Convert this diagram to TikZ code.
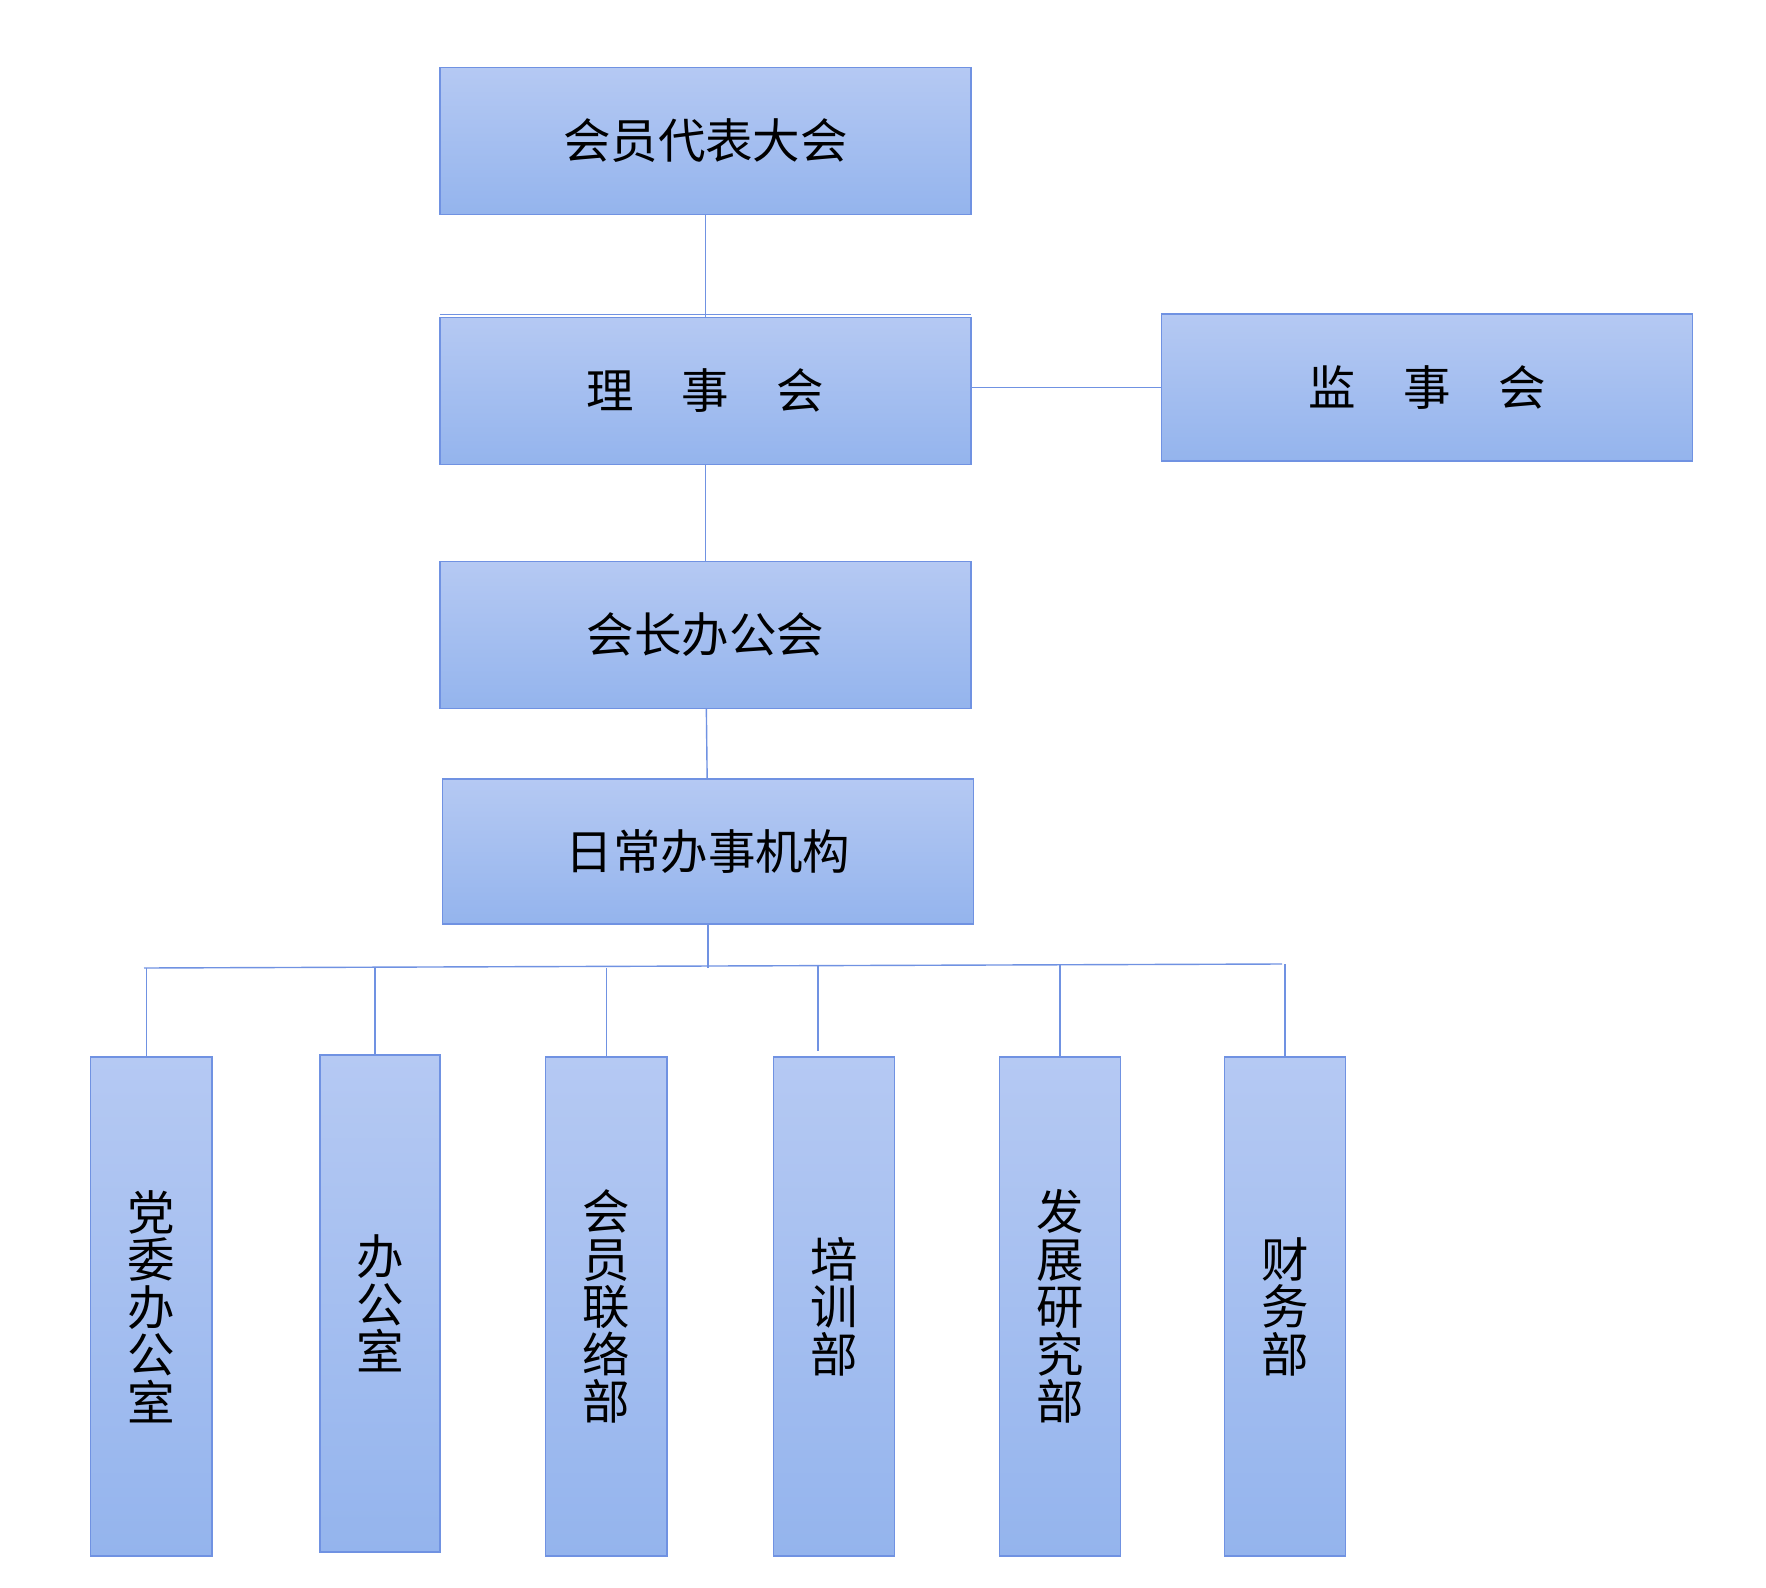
\documentclass[tikz,border=0pt]{standalone}
\usepackage{fontspec}
\newfontfamily\cjk{Noto Sans CJK SC}
\usetikzlibrary{positioning}
\definecolor{boxtop}{RGB}{181,201,243}
\definecolor{boxbot}{RGB}{148,180,237}
\definecolor{boxline}{RGB}{112,146,226}
\tikzset{
  box/.style={draw=boxline, line width=0.4pt, top color=boxtop, bottom color=boxbot,
    inner sep=0pt, outer sep=0pt, font=\cjk\fontsize{13.5pt}{13.5pt}\selectfont},
  widebox/.style={box, minimum width=5.31cm, minimum height=1.47cm},
  tallbox/.style={box, minimum width=1.21cm, minimum height=4.99cm, align=center},
  link/.style={draw=boxline, line width=0.4pt}
}

\begin{document}
\begin{tikzpicture}[x=0.01cm, y=-0.01cm]
    \useasboundingbox (0,0) rectangle (1766,1588);
    % upper levels
    \node[widebox] (dahui) at (705.5,141) {会员代表大会};
    \node[widebox] (lishi) at (705.5,391) {理　事　会};
    \node[widebox] (jianshi) at (1427,387.5) {监　事　会};
    \node[widebox] (huizhang) at (705.5,635) {会长办公会};
    \node[widebox, minimum height=1.45cm] (banshi) at (708,851.5) {日常办事机构};
    % departments
    \node[tallbox] (dangwei) at (151.3,1306.5) {党\\委\\办\\公\\室};
    \node[tallbox, minimum width=1.2cm, minimum height=4.97cm] (bangong) at (380,1303.5) {办\\公\\室};
    \node[tallbox] (lianluo) at (606.3,1306.5) {会\\员\\联\\络\\部};
    \node[tallbox] (peixun) at (833.8,1306.5) {培\\训\\部};
    \node[tallbox] (fazhan) at (1060,1306.5) {发\\展\\研\\究\\部};
    \node[tallbox] (caiwu) at (1284.8,1306.5) {财\\务\\部};
    \coordinate (busL) at (144,968);
    \coordinate (busR) at (1282,964);
    % connectors
    \draw[link] ([yshift=0.03cm]lishi.north west) -- ([yshift=0.03cm]lishi.north east);
    \draw[link] (dahui) -- (lishi);
    \draw[link] (lishi) -- (huizhang);
    \draw[link] (huizhang) -- (banshi);
    \draw[link] (jianshi.west -| lishi.east) -- (jianshi.west);
    \draw[link] (banshi.south) -- (banshi.south |- busL);
    \draw[link] (busL) -- (busR);
    \draw[link] ([xshift=-0.05cm]dangwei.north) -- ([xshift=-0.05cm]dangwei.north |- busL);
    \draw[link] ([xshift=-0.05cm]bangong.north) -- ([xshift=-0.05cm]bangong.north |- busL);
    \draw[link] (lianluo.north) -- (lianluo.north |- busL);
    \draw[link] ([xshift=-0.16cm,yshift=0.06cm]peixun.north) -- ([xshift=-0.16cm,yshift=-0.01cm]peixun.north |- busR);
    \draw[link] (fazhan.north) -- (fazhan.north |- busR);
    \draw[link] (caiwu.north) -- (caiwu.north |- busR);
\end{tikzpicture}
\end{document}
